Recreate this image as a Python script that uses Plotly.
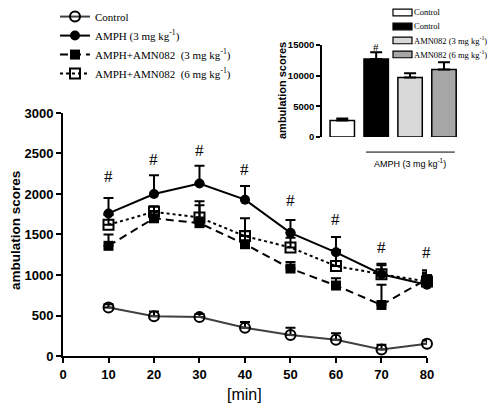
import plotly.graph_objects as go

minutes = [10, 20, 30, 40, 50, 60, 70, 80]
control = [600, 490, 480, 350, 260, 200, 80, 150]
control_err = [40, 60, 40, 70, 90, 80, 60, 40]
amph = [1760, 2000, 2130, 1930, 1520, 1280, 1010, 880]
amph_err = [190, 230, 220, 170, 160, 190, 130, 150]
amn3 = [1360, 1700, 1640, 1380, 1080, 870, 630, 950]
amn3_err = [140, 90, 270, 160, 80, 90, 250, 110]
amn6 = [1620, 1780, 1710, 1480, 1340, 1110, 1010, 920]
amn6_err = [120, 70, 150, 220, 120, 200, 110, 100]
hash_y = [2210, 2430, 2540, 2300, 1925, 1680, 1345, 1280]

bar_labels = ["Control", "Control", "AMN082 (3 mg kg<sup>-1</sup>)", "AMN082 (6 mg kg<sup>-1</sup>)"]
bar_values = [2700, 12700, 9700, 11000]
bar_err = [300, 1100, 700, 1200]
bar_colors = ["white", "black", "#d9d9d9", "#a6a6a6"]
bar_hash = [None, "#", None, None]
inset_ticks = [0, 5000, 10000, 15000]

serif = "Liberation Serif"
sans = "Liberation Sans"

fig = go.Figure()

def err(e, w=5):
    return dict(type="data", array=e, arrayminus=[0] * len(e), symmetric=False,
                color="black", thickness=2, width=w)

fig.add_trace(go.Scatter(x=minutes, y=control, name="Control", mode="lines+markers",
    line=dict(color="#404040", width=2),
    marker=dict(symbol="circle-open", size=10, color="black", line=dict(width=2)),
    error_y=err(control_err), legend="legend", cliponaxis=False))
fig.add_trace(go.Scatter(x=minutes, y=amph, name="AMPH (3 mg kg<sup>-1</sup>)", mode="lines+markers",
    line=dict(color="black", width=2),
    marker=dict(symbol="circle", size=10, color="black"),
    error_y=err(amph_err), legend="legend", cliponaxis=False))
fig.add_trace(go.Scatter(x=minutes, y=amn3, name="AMPH+AMN082  (3 mg kg<sup>-1</sup>)", mode="lines+markers",
    line=dict(color="black", width=2, dash="8px,5px"),
    marker=dict(symbol="square", size=10, color="black"),
    error_y=err(amn3_err), legend="legend", cliponaxis=False))
fig.add_trace(go.Scatter(x=minutes, y=amn6, name="AMPH+AMN082  (6 mg kg<sup>-1</sup>)", mode="lines+markers",
    line=dict(color="black", width=2, dash="3px,3px"),
    marker=dict(symbol="square-open", size=10, color="black", line=dict(width=2)),
    error_y=err(amn6_err), legend="legend", cliponaxis=False))

for i in range(4):
    fig.add_trace(go.Bar(x=[i], y=[bar_values[i]], name=bar_labels[i],
        marker=dict(color=bar_colors[i], line=dict(color="black", width=1.5)),
        width=0.72, error_y=err([bar_err[i]], 6), showlegend=False,
        xaxis="x2", yaxis="y2"))

annotations = []
shapes = [dict(type="line", xref="x2", yref="paper", x0=0.7, x1=3.32, y0=0.586, y1=0.586,
               line=dict(color="black", width=1))]
for xm, yh in zip(minutes, hash_y):
    annotations.append(dict(x=xm, y=yh, xref="x", yref="y", text="#", showarrow=False,
                            font=dict(family=serif, size=17, color="black")))
for i, h in enumerate(bar_hash):
    if h:
        annotations.append(dict(x=i, y=bar_values[i] + bar_err[i], xref="x2", yref="y2", text=h,
                                showarrow=False, yanchor="bottom", yshift=-3,
                                font=dict(family=serif, size=11, color="black")))

# inset legend (swatch + label per bar)
leg_top, leg_step = 0.9871, 0.0402
for i, (lab, col) in enumerate(zip(bar_labels, bar_colors)):
    yc = leg_top - i * leg_step
    shapes.append(dict(type="rect", xref="paper", yref="paper", x0=0.7621, x1=0.806,
                       y0=yc - 0.0095, y1=yc + 0.0095, fillcolor=col,
                       line=dict(color="black", width=1.2)))
    annotations.append(dict(x=0.806, y=yc, xref="paper", yref="paper", text=lab, showarrow=False,
                            xanchor="left", yanchor="middle",
                            font=dict(family=serif, size=8.5, color="black")))

annotations += [
    dict(x=2, y=0.555, xref="x2", yref="paper", text="AMPH (3 mg kg<sup>-1</sup>)",
         showarrow=False, font=dict(family=sans, size=9, color="black")),
    dict(x=0.4203, y=-0.112, xref="paper", yref="paper", text="[min]", showarrow=False,
         xanchor="center", yanchor="middle", font=dict(family=sans, size=16, color="black")),
    dict(x=-0.111, y=0.362, xref="paper", yref="paper", text="ambulation scores", showarrow=False,
         xanchor="center", yanchor="middle", textangle=-90,
         font=dict(family=sans, size=13.5, color="black", weight="bold")),
    dict(x=0.5058, y=0.7615, xref="paper", yref="paper", text="ambulation scores", showarrow=False,
         xanchor="center", yanchor="middle", textangle=-90,
         font=dict(family=sans, size=11, color="black", weight="bold")),
]

fig.update_layout(
    width=488, height=397,
    margin=dict(l=55, r=0, t=0, b=49, autoexpand=False),
    paper_bgcolor="white", plot_bgcolor="white",
    barmode="overlay",
    showlegend=True,
    annotations=annotations,
    shapes=shapes,
    xaxis=dict(domain=[0, 0.8406], range=[0, 80], tickvals=[0, 10, 20, 30, 40, 50, 60, 70, 80],
               showline=True, linecolor="black", linewidth=2, ticks="outside", ticklen=5, tickwidth=2,
               tickcolor="black", showgrid=False, zeroline=False, automargin=False,
               tickfont=dict(family=sans, size=13, color="black", weight="bold")),
    yaxis=dict(domain=[0, 0.6983], range=[0, 3000], tickvals=list(range(0, 3001, 500)),
               showline=True, linecolor="black", linewidth=2, ticks="outside", ticklen=5, tickwidth=2,
               tickcolor="black", showgrid=False, zeroline=False, automargin=False,
               tickfont=dict(family=sans, size=13, color="black", weight="bold")),
    xaxis2=dict(domain=[0.598, 0.919], range=[-0.6, 3.5], anchor="y2", visible=False),
    yaxis2=dict(domain=[0.6293, 0.8937], range=[0, 15000], anchor="x2", tickvals=inset_ticks,
                ticktext=[str(t) for t in inset_ticks], automargin=False,
                showline=True, linecolor="black", linewidth=1.5, ticks="outside", ticklen=4, tickwidth=1.5,
                tickcolor="black", showgrid=False, zeroline=False,
                tickfont=dict(family=sans, size=9.5, color="black", weight="bold")),
    legend=dict(x=-0.0185, y=1.017, xanchor="left", yanchor="top", xref="paper", yref="paper",
                bgcolor="rgba(0,0,0,0)", font=dict(family=serif, size=11, color="black"),
                itemwidth=30, tracegroupgap=0),
)

fig.write_html("out.html")
